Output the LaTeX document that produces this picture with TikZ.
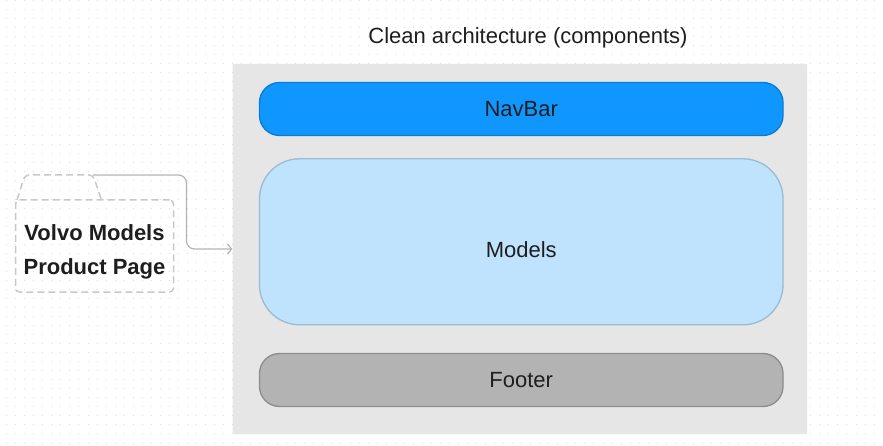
\documentclass[tikz,border=0pt]{standalone}
\usepackage{fontspec}
\setmainfont{Liberation Sans}
\usetikzlibrary{arrows.meta}
\definecolor{texte}{HTML}{1E1E1E}
\definecolor{fondcadre}{HTML}{E6E6E6}
\definecolor{bleuvif}{HTML}{0F97FF}
\definecolor{bleuvifbord}{HTML}{0B7BD2}
\definecolor{bleuclair}{HTML}{BFE3FD}
\definecolor{bleuclairbord}{HTML}{9BBAD3}
\definecolor{grisbloc}{HTML}{B3B3B3}
\definecolor{grisblocbord}{HTML}{8C8C8C}
\definecolor{grispoint}{HTML}{DCDCDC}
\definecolor{grisdossier}{HTML}{C8C8C8}
\definecolor{grislien}{HTML}{B4B4B4}
\begin{document}
\begin{tikzpicture}[x=1pt,y=-1pt]
% Styles (couleurs, traits)
\tikzstyle{cadre}=[fill=fondcadre,draw=none,rounded corners=1pt,inner sep=0pt]
\tikzstyle{bloc}=[rounded corners=20pt,line width=1.3pt,inner sep=0pt,
  font=\fontsize{22}{26}\selectfont,text=texte]
\tikzstyle{dossier}=[draw=grisdossier,dashed,dash pattern=on 7pt off 4pt,line width=1.5pt,
  rounded corners=4pt,inner sep=0pt,text=texte,
  font=\fontsize{22}{34}\selectfont\bfseries]
\tikzstyle{lien}=[draw=grislien,line width=1.2pt,-{Straight Barb[length=4pt,width=10pt]}]
% Dimensions
\def\Largeur{883}
\def\Hauteur{446}
\def\PasGrille{9.035}
\def\LargeurBloc{523.5}
% Fond et grille de points
\useasboundingbox (0,0) rectangle (\Largeur,\Hauteur);
\fill[white] (0,0) rectangle (\Largeur,\Hauteur);
\foreach \i in {0,...,97}{
  \foreach \j in {0,...,49}{
    \fill[grispoint] ({6.7+\i*\PasGrille-0.5},{0.3+\j*\PasGrille-0.5}) rectangle ++(1,1);
  }
}
% Titre
\node[text=texte,font=\fontsize{22}{26}\selectfont] (titre) at (528,38) {Clean architecture (components)};
% Composants
\node[cadre,minimum width=574.5pt,minimum height=370pt] (page) at (519.75,249) {};
\node[bloc,fill=bleuvif,draw=bleuvifbord,minimum width=\LargeurBloc pt,minimum height=53pt] (navbar) at (521.25,109) {NavBar};
\node[bloc,rounded corners=40pt,fill=bleuclair,draw=bleuclairbord,minimum width=\LargeurBloc pt,minimum height=166pt,
  text height=31.5pt,text depth=0pt] (models) at (521.25,241.8) {Models};
\node[bloc,fill=grisbloc,draw=grisblocbord,minimum width=\LargeurBloc pt,minimum height=53pt] (footer) at (521.25,380) {Footer};
% Dossier
\node[dossier,minimum width=158pt,minimum height=92pt,text height=20pt,text depth=30.2pt] (produit) at (94.5,246)
  {\begin{tabular}[t]{@{}c@{}}Volvo Models\\Product Page\end{tabular}};
\coordinate (ongletG) at (17,200);
\coordinate (onglet) at (93,175);
\coordinate (ongletD) at (101.5,200);
\draw[draw=grisdossier,dash pattern=on 7pt off 4pt,line width=1.5pt,rounded corners=4pt]
  (ongletG) -- (25,175) -- (onglet) -- (ongletD);
% Lien
\coordinate (coude) at (186.5,249);
\draw[lien,rounded corners=8pt] (onglet) -| (coude) -- (page.west);
\end{tikzpicture}
\end{document}
